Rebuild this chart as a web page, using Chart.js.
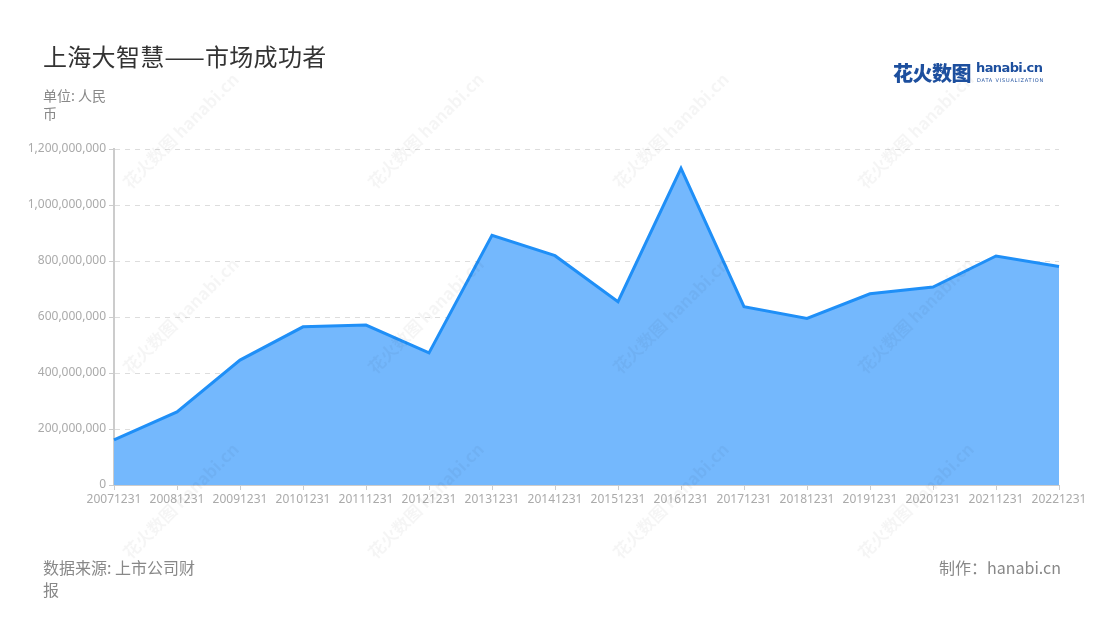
<!DOCTYPE html>
<html>
<head>
<meta charset="utf-8">
<script src="https://cdn.jsdelivr.net/npm/chart.js@4/dist/chart.umd.min.js"></script>
<style>
  html, body { margin:0; padding:0; background:#fff; }
  body { width:1100px; height:620px; position:relative; overflow:hidden; font-family:"Noto Sans CJK SC","Noto Sans",sans-serif; }
  #c { position:absolute; left:0; top:0; }
  .title { position:absolute; left:43px; top:38px; font-size:24px; color:#333; letter-spacing:0.3px; }
  .unit { position:absolute; left:43px; top:86px; width:72px; font-size:14px; line-height:18px; color:#888; }
  .source { position:absolute; left:43px; top:556px; width:165px; font-size:16px; line-height:22px; color:#888; }
  .maker { position:absolute; right:39px; top:555px; font-size:16px; color:#888; }
  .logo { position:absolute; left:893px; top:58px; height:28px; }
  .logo .cn { position:absolute; left:0; top:0; font-size:20px; font-weight:900; color:#1d4f9e; white-space:nowrap; letter-spacing:-0.5px; }
  .logo .en { position:absolute; left:83px; top:2px; font-size:13px; font-weight:700; color:#1d4f9e; font-family:"DejaVu Sans",sans-serif; letter-spacing:-0.6px; white-space:nowrap; }
  .logo .sub { position:absolute; left:84px; top:19px; font-size:5px; color:#1d4f9e; letter-spacing:0.8px; white-space:nowrap; font-family:"DejaVu Sans",sans-serif; }
  .wm { position:absolute; font-size:17px; font-weight:700; color:rgba(0,0,0,0.04); white-space:nowrap; transform:translate(-50%,-50%) rotate(-45deg); pointer-events:none; }
</style>
</head>
<body>
<canvas id="c" width="1100" height="620"></canvas>
<div id="wms"></div>
<div class="title">上海大智慧——市场成功者</div>
<div class="unit">单位: 人民币</div>
<div class="logo"><span class="cn">花火数图</span><span class="en">hanabi.cn</span><span class="sub">DATA VISUALIZATION</span></div>
<div class="source">数据来源: 上市公司财报</div>
<div class="maker">制作：hanabi.cn</div>
<script>
const categories = ["20071231","20081231","20091231","20101231","20111231","20121231","20131231","20141231","20151231","20161231","20171231","20181231","20191231","20201231","20211231","20221231"];
const revenue = [161000000, 261000000, 446000000, 565000000, 571000000, 472000000, 892000000, 819000000, 655000000, 1131000000, 637000000, 595000000, 683000000, 707000000, 818000000, 780000000];
const yTicks = [0, 200000000, 400000000, 600000000, 800000000, 1000000000, 1200000000];

// faint watermarks
const wmX = [180, 425, 670, 915];
const wmY = [130, 315, 500];
const wmBox = document.getElementById('wms');
wmX.forEach(x => wmY.forEach(y => {
  const d = document.createElement('div');
  d.className = 'wm';
  d.style.left = x + 'px';
  d.style.top = y + 'px';
  d.textContent = '花火数图 hanabi.cn';
  wmBox.appendChild(d);
}));

const tickFont = { family: '"Noto Sans","Noto Sans CJK SC",sans-serif', size: 12 };
new Chart(document.getElementById('c'), {
  type: 'line',
  data: {
    labels: categories,
    datasets: [{
      data: revenue,
      borderColor: '#1f8ff7',
      backgroundColor: '#74b8fd',
      borderWidth: 3,
      fill: 'origin',
      pointRadius: 0,
      tension: 0
    }]
  },
  options: {
    responsive: false,
    animation: false,
    plugins: { legend: { display: false }, tooltip: { enabled: false } },
    layout: { padding: { left: 14, right: 41, top: 149, bottom: 100 } },
    scales: {
      x: {
        offset: false,
        grid: { display: true, drawOnChartArea: false, drawTicks: true, tickLength: 5, color: '#ccc', tickColor: '#ccc' },
        border: { display: true, color: '#ccc', width: 1 },
        ticks: { color: '#aaa', font: tickFont, maxRotation: 0, autoSkip: false, padding: 2 },
        afterFit: s => { s.height = 35; }
      },
      y: {
        min: 0, max: 1200000000,
        afterBuildTicks: s => { s.ticks = yTicks.map(v => ({ value: v })); },
        grid: { color: '#ddd', tickLength: 5, tickColor: '#ccc', drawTicks: true },
        border: { display: true, color: '#ccc', width: 2, dash: [5, 5] },
        ticks: { color: '#aaa', font: tickFont, padding: 3, callback: v => v.toLocaleString('en-US') },
        afterFit: s => { s.width = 100; }
      }
    }
  }
});
</script>
</body>
</html>
